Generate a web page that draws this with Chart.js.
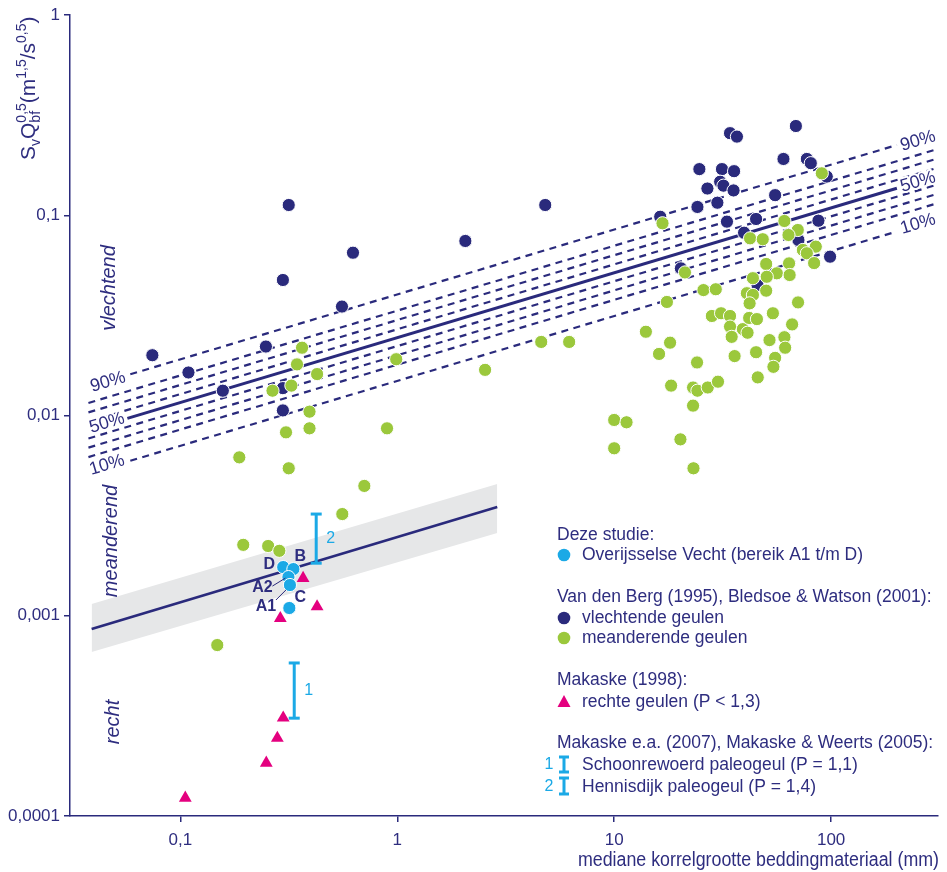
<!DOCTYPE html>
<html>
<head>
<meta charset="utf-8">
<script src="https://cdn.jsdelivr.net/npm/chart.js@4.4.1/dist/chart.umd.min.js"></script>
<style>
  html, body { margin: 0; padding: 0; background: #fff; }
  #wrap { width: 947px; height: 872px; }
</style>
</head>
<body>
<div id="wrap"><canvas id="chart" width="947" height="872"></canvas></div>
<script>
'use strict';

// ── axis ticks ─────────────────────────────────────────────
const xTicks = [0.1, 1, 10, 100];
const xTickLabels = ['0,1', '1', '10', '100'];
const yTicks = [0.0001, 0.001, 0.01, 0.1, 1];
const yTickLabels = ['0,0001', '0,001', '0,01', '0,1', '1'];

// ── Van den Berg / Bledsoe & Watson: vlechtende geulen ─────
const braidedD = [0.0743, 0.109, 0.157, 0.248, 0.297, 0.297, 0.297, 0.316, 0.556, 0.625,
  2.06, 4.81, 16.3, 20.3, 34.2, 36.8, 68.8, 60.3, 77.3, 80.6,
  24.7, 31.4, 35.7, 30.8, 31.9, 26.9, 35.5, 95.5, 55.2, 24.2,
  29.9, 33.1, 45.1, 87.4, 39.7, 70.7, 98.9, 45.8];
const braidedS = [0.0200, 0.0164, 0.0133, 0.0221, 0.0137, 0.0106, 0.0475, 0.1125, 0.0350, 0.065,
  0.0744, 0.1125, 0.0983, 0.0543, 0.257, 0.247, 0.279, 0.191, 0.191, 0.182,
  0.170, 0.170, 0.166, 0.147, 0.1405, 0.136, 0.133, 0.156, 0.126, 0.110,
  0.1155, 0.0929, 0.0958, 0.0939, 0.0818, 0.0752, 0.0621, 0.0448];

// ── meanderende geulen ─────────────────────────────────────
const meanderD = [0.364, 0.345, 0.427, 0.266, 0.325, 0.989, 0.394, 0.307, 0.394, 0.897,
  0.187, 0.316, 0.705, 0.558, 0.195, 0.254, 0.286, 0.148, 2.54, 4.61,
  6.20, 10.0, 11.4, 10.0, 20.2, 23.2, 14.0, 18.1, 16.1, 16.7,
  21.2, 17.5, 25.8, 29.4, 28.2, 31.1, 34.2, 34.2, 34.8, 39.2,
  41.2, 41.9, 45.5, 53.9, 66.1, 60.9, 52.0, 61.4, 24.1, 35.9,
  45.1, 55.2, 54.2, 45.9, 18.3, 23.1, 24.2, 27.0, 30.1, 23.1,
  42.3, 48.4, 60.9, 70.2, 63.6, 74.1, 85.0, 77.3, 83.5, 64.0,
  50.2, 56.2, 64.4, 50.5, 43.6, 50.2, 40.9, 43.6, 42.1, 70.4, 90.6];
const meanderS = [0.0218, 0.0180, 0.0161, 0.0133, 0.0141, 0.0191, 0.01045, 0.00824, 0.00863, 0.00863,
  0.00618, 0.00545, 0.00445, 0.00322, 0.00226, 0.00223, 0.00211, 0.000714, 0.0169, 0.0233,
  0.0233, 0.0095, 0.00925, 0.00686, 0.0076, 0.00545, 0.0262, 0.0231, 0.0203, 0.0912,
  0.0518, 0.0369, 0.0423, 0.0427, 0.0314, 0.0324, 0.0314, 0.0278, 0.0247, 0.0270,
  0.0259, 0.0307, 0.0303, 0.0324, 0.0285, 0.0246, 0.0238, 0.0218, 0.0184, 0.0198,
  0.0207, 0.0194, 0.0175, 0.0155, 0.0141, 0.0138, 0.0133, 0.0138, 0.01475, 0.0112,
  0.0767, 0.0759, 0.0936, 0.0844, 0.0797, 0.0671, 0.0697, 0.0646, 0.0577, 0.0575,
  0.0571, 0.0513, 0.0503, 0.0493, 0.0485, 0.0420, 0.0408, 0.0400, 0.0363, 0.0367, 0.162];

// ── Deze studie: Overijsselse Vecht ────────────────────────
const vechtReaches = ['D', 'B', 'A2', 'A1', 'C'];
const vechtD = [0.298, 0.332, 0.315, 0.320, 0.318];
const vechtS = [0.00175, 0.00171, 0.00156, 0.001424, 0.001093];

// ── Makaske (1998): rechte geulen ──────────────────────────
const straightD = [0.368, 0.427, 0.289, 0.298, 0.280, 0.249, 0.1054];
const straightS = [0.00154, 0.00111, 0.000971, 0.000309, 0.000245, 0.000184, 0.000123];

// ── paleogeulen (range bars) ───────────────────────────────
const paleoNames = ['1', '2'];
const paleoD = [0.335, 0.423];
const paleoLow = [0.000308, 0.00183];
const paleoHigh = [0.000581, 0.00322];

// ── braided/meander boundary with percentile lines ─────────
const pctNames = ['90%', '80%', '70%', '60%', '50%', '40%', '30%', '20%', '10%'];
const pctX0 = [0.0588, 0.0377, 0.0377, 0.0377, 0.057, 0.0377, 0.0377, 0.0377, 0.0588];
const pctX1 = [201, 311, 311, 311, 201, 311, 311, 311, 193];
const pctY0 = [0.01606, 0.01155, 0.01036, 0.00932, 0.00967, 0.00768, 0.00691, 0.0062, 0.00594];
const pctY1 = [0.2242, 0.2144, 0.1924, 0.1730, 0.1364, 0.1426, 0.1283, 0.1151, 0.0819];

// ── meander/straight boundary with grey band ───────────────
const bandX = [0.039, 2.89];
const bandMid = [0.000859, 0.00349];
const bandTop = [0.001145, 0.00455];
const bandBottom = [0.000659, 0.00259];

// ── styles ─────────────────────────────────────────────────
const NAVY = '#2a2a7c';
const TEXT = '#2e2d7f';
const GREEN = '#9bc83c';
const BLUE = '#1ba9e6';
const MAGENTA = '#e4007f';
const GREY = '#e6e7e8';
const FAMILY = "'Liberation Sans', Arial, Helvetica, sans-serif";
const font = (size, extra = '') => `${extra} ${size}px ${FAMILY}`.trim();

const pts = (xs, ys) => xs.map((x, i) => ({ x, y: ys[i] }));

const datasets = [];

datasets.push({
  label: 'band-top', data: pts(bandX, bandTop), showLine: true, fill: '+1',
  backgroundColor: GREY, borderWidth: 0, pointRadius: 0, order: 20
});
datasets.push({
  label: 'band-bottom', data: pts(bandX, bandBottom), showLine: true, fill: false,
  borderWidth: 0, pointRadius: 0, order: 20
});
datasets.push({
  label: 'band-mid', data: pts(bandX, bandMid), showLine: true,
  borderColor: NAVY, borderWidth: 2.6, pointRadius: 0, order: 15
});

pctNames.forEach((name, i) => {
  datasets.push({
    label: name,
    data: [{ x: pctX0[i], y: pctY0[i] }, { x: pctX1[i], y: pctY1[i] }],
    showLine: true, borderColor: NAVY, pointRadius: 0,
    borderWidth: name === '50%' ? 3 : 2.2,
    borderDash: name === '50%' ? [] : [7, 5.5],
    order: 15
  });
});

datasets.push({
  label: 'vlechtende geulen', data: pts(braidedD, braidedS),
  backgroundColor: NAVY, borderColor: '#fff', borderWidth: 1, pointRadius: 6.6, order: 6
});
datasets.push({
  label: 'meanderende geulen', data: pts(meanderD, meanderS),
  backgroundColor: GREEN, borderColor: '#fff', borderWidth: 1, pointRadius: 6.6, order: 5
});
datasets.push({
  label: 'Overijsselse Vecht', data: pts(vechtD, vechtS),
  backgroundColor: BLUE, borderColor: '#fff', borderWidth: 1, pointRadius: 6.6, order: 3
});
datasets.push({
  label: 'rechte geulen', data: pts(straightD, straightS), pointStyle: 'triangle',
  backgroundColor: MAGENTA, borderColor: MAGENTA, borderWidth: 0, pointRadius: 7.4, order: 2
});
paleoNames.forEach((name, i) => {
  datasets.push({
    label: 'paleogeul ' + name,
    data: [{ x: paleoD[i], y: paleoHigh[i] }, { x: paleoD[i], y: paleoLow[i] }],
    showLine: true, borderColor: BLUE, borderWidth: 3,
    pointStyle: 'line', pointRadius: 5.5, pointBorderWidth: 3, pointBorderColor: BLUE,
    order: 1
  });
});

// ── text layer: labels, legend, axis titles ────────────────
function drawText(ctx, str, x, y, o = {}) {
  ctx.save();
  ctx.translate(x, y);
  if (o.rotate) ctx.rotate(o.rotate);
  if (o.scaleX) ctx.scale(o.scaleX, 1);
  ctx.font = o.font || font(17);
  ctx.fillStyle = o.color || TEXT;
  ctx.textAlign = o.align || 'left';
  ctx.textBaseline = o.baseline || 'middle';
  if (o.halo) {
    ctx.lineJoin = 'round';
    ctx.strokeStyle = '#fff';
    ctx.lineWidth = o.halo;
    ctx.strokeText(str, 0, 0);
  }
  ctx.fillText(str, 0, 0);
  ctx.restore();
}

function drawIBar(ctx, x, y0, y1, w) {
  ctx.save();
  ctx.strokeStyle = BLUE;
  ctx.lineWidth = 3;
  ctx.beginPath();
  ctx.moveTo(x, y0); ctx.lineTo(x, y1);
  ctx.moveTo(x - w / 2, y0); ctx.lineTo(x + w / 2, y0);
  ctx.moveTo(x - w / 2, y1); ctx.lineTo(x + w / 2, y1);
  ctx.stroke();
  ctx.restore();
}

const reachLabelOffset = { D: [-14, -2], B: [7, -12], A2: [-26, 11], A1: [-24, 22], C: [11, -10] };
const reachLeader = { A2: [-16, 9, -3, 1], A1: [-14, 15, -4, 5] };

const overlay = {
  id: 'overlay',
  afterDraw(chart) {
    const { ctx } = chart;
    const xs = chart.scales.x, ys = chart.scales.y;
    const px = v => xs.getPixelForValue(v), py = v => ys.getPixelForValue(v);
    const slope = -Math.atan(230 / 770);

    // regime names
    const italic = font(20, 'italic');
    drawText(ctx, 'vlechtend', 109, 288, { rotate: -Math.PI / 2, font: italic, align: 'center' });
    drawText(ctx, 'meanderend', 111, 541, { rotate: -Math.PI / 2, font: italic, align: 'center' });
    drawText(ctx, 'recht', 113, 722, { rotate: -Math.PI / 2, font: italic, align: 'center' });

    // percentile labels
    const pf = font(18);
    [['90%', 108, 382], ['50%', 107, 423], ['10%', 107, 465],
     ['90%', 918, 141], ['50%', 918, 182], ['10%', 918, 224]].forEach(([t, x, y]) =>
      drawText(ctx, t, x, y, { rotate: slope, font: pf, align: 'center', halo: 4 }));

    // reach labels + leader lines
    vechtReaches.forEach((name, i) => {
      const x = px(vechtD[i]), y = py(vechtS[i]);
      const [dx, dy] = reachLabelOffset[name];
      drawText(ctx, name, x + dx, y + dy, { font: font(16, 'bold'), align: 'center' });
      const l = reachLeader[name];
      if (l) {
        ctx.save();
        ctx.strokeStyle = NAVY; ctx.lineWidth = 1;
        ctx.beginPath();
        ctx.moveTo(x + l[0], y + l[1]); ctx.lineTo(x + l[2], y + l[3]);
        ctx.stroke();
        ctx.restore();
      }
    });

    // range bar numbers
    paleoNames.forEach((name, i) => {
      const x = px(paleoD[i]);
      const y = (py(paleoLow[i]) + py(paleoHigh[i])) / 2;
      drawText(ctx, name, x + 10, y, { font: font(16), color: BLUE });
    });

    // legend
    const lf = font(17.5);
    const hx = 557, tx = 582, sx = 564;
    drawText(ctx, 'Deze studie:', hx, 535, { font: lf });
    drawText(ctx, 'Overijsselse Vecht (bereik A1 t/m D)', tx, 555, { font: lf });
    drawText(ctx, 'Van den Berg (1995), Bledsoe & Watson (2001):', hx, 597, { font: lf });
    drawText(ctx, 'vlechtende geulen', tx, 618, { font: lf });
    drawText(ctx, 'meanderende geulen', tx, 638, { font: lf });
    drawText(ctx, 'Makaske (1998):', hx, 680, { font: lf });
    drawText(ctx, 'rechte geulen (P < 1,3)', tx, 702, { font: lf });
    drawText(ctx, 'Makaske e.a. (2007), Makaske & Weerts (2005):', hx, 743, { font: lf });
    drawText(ctx, 'Schoonrewoerd paleogeul (P = 1,1)', tx, 765, { font: lf });
    drawText(ctx, 'Hennisdijk paleogeul (P = 1,4)', tx, 787, { font: lf });

    [[BLUE, 555], [NAVY, 618], [GREEN, 638]].forEach(([c, y]) => {
      ctx.save();
      ctx.fillStyle = c;
      ctx.beginPath(); ctx.arc(sx, y, 6.3, 0, Math.PI * 2); ctx.fill();
      ctx.restore();
    });
    ctx.save();
    ctx.fillStyle = MAGENTA;
    ctx.beginPath();
    ctx.moveTo(sx, 695); ctx.lineTo(sx + 6.5, 707); ctx.lineTo(sx - 6.5, 707);
    ctx.closePath(); ctx.fill();
    ctx.restore();
    drawIBar(ctx, sx, 757, 772, 10);
    drawIBar(ctx, sx, 778, 794, 10);
    drawText(ctx, '1', 549, 765, { font: font(16), color: BLUE, align: 'center' });
    drawText(ctx, '2', 549, 787, { font: font(16), color: BLUE, align: 'center' });

    // x axis title, condensed to the reference width
    ctx.save();
    ctx.font = font(20);
    const xt = 'mediane korrelgrootte beddingmateriaal (mm)';
    const w = ctx.measureText(xt).width;
    ctx.restore();
    drawText(ctx, xt, 939, 860, { font: font(20), align: 'right', scaleX: 361 / w });

    // y axis title with sub/superscripts
    ctx.save();
    ctx.translate(35, 160);
    ctx.rotate(-Math.PI / 2);
    ctx.fillStyle = TEXT;
    ctx.textBaseline = 'alphabetic';
    const big = font(21), small = font(14);
    let cx = 0;
    const part = (t, f, dy) => {
      ctx.font = f; ctx.fillText(t, cx, dy); cx += ctx.measureText(t).width;
    };
    part('S', big, 0);
    part('v', small, 5);
    part('Q', big, 0);
    ctx.font = small;
    const wSub = ctx.measureText('bf').width, wSup = ctx.measureText('0,5').width;
    ctx.fillText('bf', cx, 5);
    ctx.fillText('0,5', cx, -9);
    cx += Math.max(wSub, wSup);
    part('(m', big, 0);
    part('1,5', small, -9);
    part('/s', big, 0);
    part('0,5', small, -9);
    part(')', big, 0);
    ctx.restore();
  }
};

// ── chart ──────────────────────────────────────────────────
const axisCommon = {
  type: 'logarithmic',
  bounds: 'data',
  grid: { display: true, drawOnChartArea: false, drawTicks: true, tickLength: 6, color: NAVY, lineWidth: 1.5 },
  border: { display: true, color: NAVY, width: 1.5 },
};

new Chart(document.getElementById('chart'), {
  type: 'scatter',
  data: { datasets },
  options: {
    responsive: false,
    animation: false,
    events: [],
    layout: { padding: { left: 0, right: 9, top: 15, bottom: 0 } },
    plugins: { legend: { display: false }, tooltip: { enabled: false } },
    scales: {
      x: {
        ...axisCommon,
        position: 'bottom',
        min: 0.031, max: 311,
        afterBuildTicks: s => { s.ticks = xTicks.map(v => ({ value: v })); },
        afterFit: s => { s.height = 56; },
        ticks: {
          autoSkip: false, maxRotation: 0, padding: 8, color: TEXT,
          font: { family: FAMILY, size: 17 },
          callback: v => xTickLabels[xTicks.indexOf(v)] ?? ''
        }
      },
      y: {
        ...axisCommon,
        position: 'left',
        min: 0.0001, max: 1,
        afterBuildTicks: s => { s.ticks = yTicks.map(v => ({ value: v })); },
        afterFit: s => { s.width = 70; },
        ticks: {
          autoSkip: false, padding: 4, color: TEXT,
          font: { family: FAMILY, size: 17 },
          callback: v => yTickLabels[yTicks.indexOf(v)] ?? ''
        }
      }
    }
  },
  plugins: [overlay]
});
</script>
</body>
</html>
